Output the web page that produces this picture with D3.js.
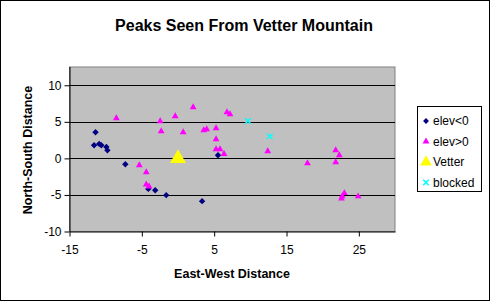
<!DOCTYPE html>
<html>
<head>
<meta charset="utf-8">
<script src="https://cdn.jsdelivr.net/npm/d3@7"></script>
<style>
  body { margin: 0; background: #fff; }
  text { font-family: "Liberation Sans", Arial, sans-serif; }
</style>
</head>
<body>
<script>
// peaks below the viewpoint
var lowX = [-11.4, -11.6, -10.9, -10.6, -9.9, -9.76, -7.28, -4.1, -3.15, -1.63, 3.33, 5.53];
var lowY = [3.58, 1.8, 1.98, 1.8, 1.57, 1.1, -0.8, -4.17, -4.35, -5.03, -5.85, 0.43];

// peaks above the viewpoint
var highX = [-8.52, -5.35, -4.39, -4.39, -4.0, -2.46, -2.32, -0.39, 0.71, 2.09, 3.56, 3.97,
  5.26, 5.26, 5.26, 5.81, 6.36, 6.77, 7.19, 12.4, 17.9, 21.8, 22.3, 21.8, 23.0, 22.7, 22.6, 24.9];
var highY = [5.49, -0.93, -1.89, -3.57, -3.85, 5.08, 3.71, 5.76, 3.58, 6.99, 3.85, 3.99,
  4.12, 2.62, 1.26, 1.26, 0.61, 6.31, 6.04, 0.98, -0.66, 1.12, 0.44, -0.52, -4.75, -5.2, -5.5, -5.2];

var vetterX = [0];
var vetterY = [0];

var blockedX = [9.67, 12.7];
var blockedY = [5.12, 3.03];

var xTicks = [-15, -5, 5, 15, 25];
var yTicks = [-10, -5, 0, 5, 10];

var width = 491, height = 302;
var plot = {left: 69.5, top: 67, right: 395, bottom: 231.5};

var svg = d3.select("body").append("svg")
    .attr("width", width)
    .attr("height", height);

svg.append("rect")
  .attr("x", 0.5).attr("y", 0.5)
  .attr("width", width - 2).attr("height", height - 2)
  .attr("fill", "#fff").attr("stroke", "#000");

var x = d3.scaleLinear().domain([-15, 30]).range([plot.left, plot.right]);
var y = d3.scaleLinear().domain([-10, 12.5]).range([plot.bottom, plot.top]);

svg.append("rect")
  .attr("x", plot.left).attr("y", plot.top)
  .attr("width", plot.right - plot.left).attr("height", plot.bottom - plot.top)
  .attr("fill", "#c0c0c0").attr("stroke", "#808080");

// gridlines
svg.selectAll(".grid")
  .data(yTicks.filter(function(d){ return d > -10; }))
  .enter().append("line")
  .attr("x1", plot.left).attr("x2", plot.right)
  .attr("y1", function(d){ return Math.round(y(d)) + 0.5; })
  .attr("y2", function(d){ return Math.round(y(d)) + 0.5; })
  .attr("stroke", "#000");

var fmt = function(d){ return String(d); };

var xAxis = svg.append("g")
  .attr("transform", "translate(0," + plot.bottom + ")")
  .call(d3.axisBottom(x).tickValues(xTicks).tickFormat(fmt).tickSize(5).tickSizeOuter(0));

var yAxis = svg.append("g")
  .attr("transform", "translate(" + plot.left + ",0)")
  .call(d3.axisLeft(y).tickValues(yTicks).tickFormat(fmt).tickSize(5).tickSizeOuter(0));

[xAxis, yAxis].forEach(function(a){
  a.select(".domain").attr("stroke", "#000");
  a.selectAll("text").attr("font-family", "Liberation Sans, Arial, sans-serif")
    .attr("font-size", 12).attr("fill", "#000");
});
xAxis.selectAll("text").attr("dy", "1.2em");
yAxis.select(".domain").attr("d", "M0.5," + (plot.top) + "V" + plot.bottom);
yAxis.selectAll("text").attr("x", -8);

function points(xs, ys, sym, size, fill, stroke) {
  var pts = xs.map(function(d, i){ return [d, ys[i]]; });
  svg.append("g").selectAll("path")
    .data(pts)
    .enter().append("path")
    .attr("transform", function(d){ return "translate(" + x(d[0]) + "," + y(d[1]) + ")"; })
    .attr("d", d3.symbol().type(sym).size(size))
    .attr("fill", fill)
    .attr("stroke", stroke || "none")
    .attr("stroke-width", 1.5);
}

points(lowX, lowY, d3.symbolDiamond2, 26, "#000080");
points(highX, highY, d3.symbolTriangle, 20, "#ff00ff");
points(vetterX, vetterY, d3.symbolTriangle, 110, "#ffff00");
points(blockedX, blockedY, d3.symbolX, 22, "none", "#00ffff");

// titles
svg.append("text")
  .attr("x", 244).attr("y", 31)
  .attr("text-anchor", "middle")
  .attr("font-weight", "bold").attr("font-size", 16)
  .text("Peaks Seen From Vetter Mountain");

svg.append("text")
  .attr("x", 232).attr("y", 278)
  .attr("text-anchor", "middle")
  .attr("font-weight", "bold").attr("font-size", 12.5)
  .text("East-West Distance");

svg.append("text")
  .attr("transform", "translate(32,150) rotate(-90)")
  .attr("text-anchor", "middle")
  .attr("font-weight", "bold").attr("font-size", 12.5)
  .text("North-South Distance");

// legend
var legendItems = [
  {name: "elev<0", sym: d3.symbolDiamond2, size: 22, fill: "#000080"},
  {name: "elev>0", sym: d3.symbolTriangle, size: 20, fill: "#ff00ff"},
  {name: "Vetter", sym: d3.symbolTriangle, size: 60, fill: "#ffff00"},
  {name: "blocked", sym: d3.symbolX, size: 22, fill: "none", stroke: "#00ffff"}
];

var legend = svg.append("g");
legend.append("rect")
  .attr("x", 417.5).attr("y", 106.5)
  .attr("width", 64).attr("height", 85)
  .attr("fill", "#fff").attr("stroke", "#000");

var item = legend.selectAll(".item")
  .data(legendItems)
  .enter().append("g")
  .attr("transform", function(d, i){ return "translate(426," + (121 + i * 20.5) + ")"; });

item.append("path")
  .attr("d", function(d){ return d3.symbol().type(d.sym).size(d.size)(); })
  .attr("fill", function(d){ return d.fill; })
  .attr("stroke", function(d){ return d.stroke || "none"; })
  .attr("stroke-width", 1.5);

item.append("text")
  .attr("x", 7).attr("dy", "0.35em")
  .attr("font-size", 12)
  .text(function(d){ return d.name; });
</script>
</body>
</html>
